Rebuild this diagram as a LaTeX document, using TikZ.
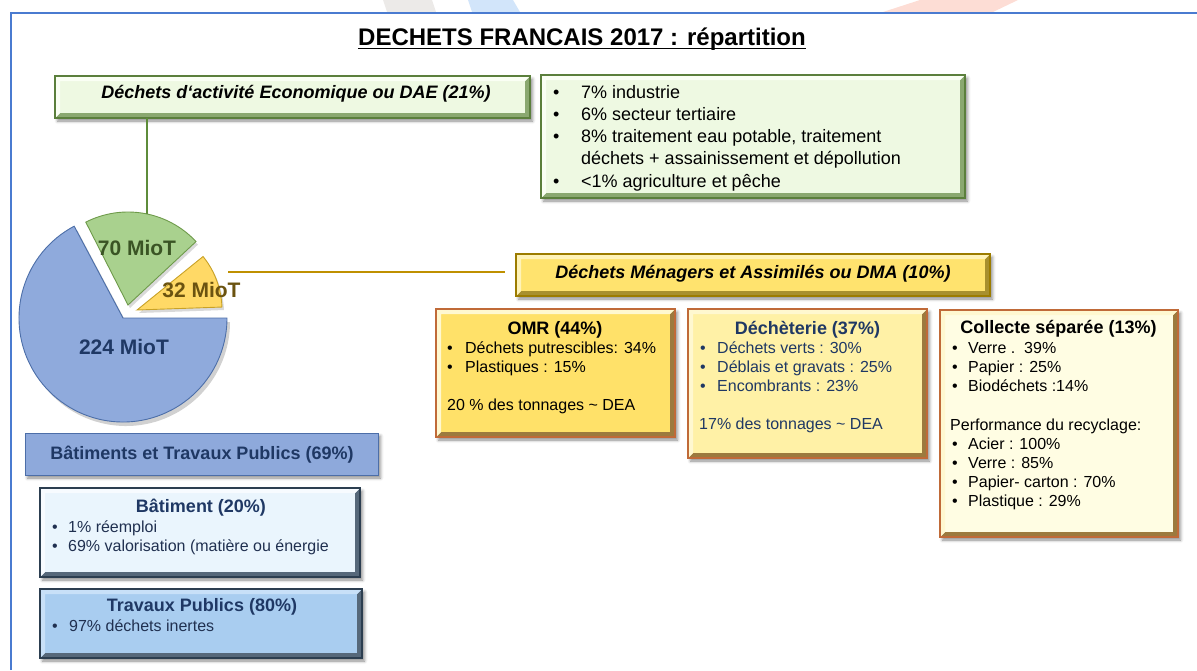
\documentclass[tikz,border=0pt]{standalone}
\usepackage{fontspec}
\setmainfont{Liberation Sans}
\usetikzlibrary{shadows.blur,calc}
\definecolor{framec}{HTML}{4A7BD0}
\definecolor{navy}{HTML}{1F3864}
\definecolor{gfill}{HTML}{EEF9E2}
\definecolor{glight}{HTML}{FAFFF4}
\definecolor{gdark}{HTML}{8AA870}
\definecolor{gborder}{HTML}{5B7F3C}
\definecolor{gline}{HTML}{5E8C3A}
\definecolor{piegreen}{HTML}{A9D18E}
\definecolor{piegreenb}{HTML}{6E9A4A}
\definecolor{pieblue}{HTML}{8FAADC}
\definecolor{pieblueb}{HTML}{4C6EA8}
\definecolor{pieyel}{HTML}{FFD966}
\definecolor{pieyelb}{HTML}{C9A227}
\definecolor{goldline}{HTML}{BF9000}
\definecolor{dmafill}{HTML}{FFE36E}
\definecolor{dmalight}{HTML}{FFF3B8}
\definecolor{dmadark}{HTML}{A8902E}
\definecolor{dmaborder}{HTML}{9C7C00}
\definecolor{omrfill}{HTML}{FFE169}
\definecolor{dechfill}{HTML}{FFF1A6}
\definecolor{collfill}{HTML}{FFFDE3}
\definecolor{ylight}{HTML}{FFF8D0}
\definecolor{ydark}{HTML}{9C7A3E}
\definecolor{yborder}{HTML}{C06A38}
\definecolor{btpfill}{HTML}{8EA9DB}
\definecolor{btpborder}{HTML}{4C6EA8}
\definecolor{batfill}{HTML}{EAF5FD}
\definecolor{tpfill}{HTML}{A9CDF0}
\definecolor{slateb}{HTML}{2C3E50}
\definecolor{slated}{HTML}{56687A}
\definecolor{slatel}{HTML}{F7FBFF}
\definecolor{tplight}{HTML}{C8E0F8}
\definecolor{txtslate}{HTML}{203050}
\definecolor{t70}{HTML}{3A5424}
\definecolor{t32}{HTML}{6B5310}
\definecolor{stripeg}{HTML}{ECEAE8}
\definecolor{stripeb}{HTML}{D2E5FA}
\definecolor{striper}{HTML}{FDDDD5}
\newcommand\bevel[4]{%
  \fill[#3] (#1.south west) -- (#1.south east) -- (#1.north east)
    -- ([shift={(-5pt,-5pt)}]#1.north east) -- ([shift={(-5pt,5pt)}]#1.south east)
    -- ([shift={(5pt,5pt)}]#1.south west) -- cycle;
  \fill[#2] (#1.south west) -- (#1.north west) -- (#1.north east)
    -- ([shift={(-5pt,-5pt)}]#1.north east) -- ([shift={(5pt,-5pt)}]#1.north west)
    -- ([shift={(5pt,5pt)}]#1.south west) -- cycle;
  \draw[#4, line width=1.1pt] (#1.south west) rectangle (#1.north east);}
\newcommand\bl[6]{\node[#1, anchor=base west] (#2) at (#3,#4) {\makebox[#5pt][l]{•}#6};}
\begin{document}
\begin{tikzpicture}[x=1pt,y=-1pt,
  boxnode/.style={inner sep=0, outer sep=0, blur shadow={shadow xshift=2.5pt, shadow yshift=-3pt, shadow blur radius=3pt, shadow opacity=45}},
  t18/.style={inner sep=0, font=\fontsize{18}{22}\selectfont},
  t16/.style={inner sep=0, font=\fontsize{16}{19}\selectfont},
  b18/.style={inner sep=0, font=\fontsize{18}{22}\selectfont\bfseries},
  bi18/.style={inner sep=0, font=\fontsize{18}{22}\selectfont\bfseries\itshape},
  pielab/.style={inner sep=0, font=\fontsize{21}{25}\selectfont\bfseries, anchor=base}]
\useasboundingbox (0,0) rectangle (1197,670);
% decorative stripes and frame
\fill[stripeg] (387,12) -- (436,12) -- (432,0) -- (383,0) -- cycle;
\fill[stripeb] (472,12) -- (520,12) -- (513,0) -- (468,0) -- cycle;
\fill[striper] (883,12) -- (993,12) -- (1018,0) -- (920,0) -- cycle;
\draw[framec, line width=2pt] (11,670) -- (11,13) -- (1197,13);
% title
\node[inner sep=0, font=\fontsize{24}{28}\selectfont\bfseries, anchor=base] (title) at (582,45.5) {DECHETS FRANCAIS 2017 : répartition};
\draw[line width=1.8pt] ([yshift=-3pt]title.base west) -- ([yshift=-3pt]title.base east);
% pie chart
\fill[black, opacity=0.18] (126,322) -- ++(-118:104) arc[start angle=-118, end angle=-360, radius=104] -- cycle;
\filldraw[fill=pieblue, draw=pieblueb, line width=0.9pt] (123,318) -- ++(-118:104) arc[start angle=-118, end angle=-360, radius=104] -- cycle;
\fill[black, opacity=0.15] (130,308) -- ++(-43:93) arc[start angle=-43, end angle=-117, radius=93] -- cycle;
\filldraw[fill=piegreen, draw=piegreenb, line width=0.9pt] (128,305) -- ++(-43:93) arc[start angle=-43, end angle=-117, radius=93] -- cycle;
\fill[black, opacity=0.15] (139,313) -- ++(-2:85) arc[start angle=-2, end angle=-39, radius=85] -- cycle;
\filldraw[fill=pieyel, draw=pieyelb, line width=0.9pt] (137,310) -- ++(-2:85) arc[start angle=-2, end angle=-39, radius=85] -- cycle;
\coordinate (gtop) at ($(128,305)+(-78:93)$);
\node[pielab, text=t70] (l70) at (137,255.5) {70 MioT};
\node[pielab, text=t32] (l32) at (201.5,297.5) {32 MioT};
\node[pielab, text=navy] (l224) at (124,354.5) {224 MioT};
% DAE
\node[boxnode, fill=gfill, minimum width=475, minimum height=42] (dae) at (292.5,97) {};
\bevel{dae}{glight}{gdark}{gborder}
\node[bi18, anchor=base] (daet) at (296,98.5) {Déchets d‘activité Economique ou DAE (21\%)};
\node[boxnode, fill=gfill, minimum width=424, minimum height=123] (daelist) at (753,136.5) {};
\bevel{daelist}{glight}{gdark}{gborder}
\bl{t18}{d1}{553}{98.5}{28}{7\% industrie}
\bl{t18}{d2}{553}{120.5}{28}{6\% secteur tertiaire}
\bl{t18}{d3}{553}{142.5}{28}{8\% traitement eau potable, traitement}
\node[t18, anchor=base west] (d3b) at (581,164.5) {déchets + assainissement et dépollution};
\bl{t18}{d4}{553}{187}{28}{<1\% agriculture et pêche}
\draw[gline, line width=2pt] (dae.south -| gtop) -- (gtop);
% DMA
\node[boxnode, fill=dmafill, minimum width=474, minimum height=42] (dma) at (753,275) {};
\bevel{dma}{dmalight}{dmadark}{dmaborder}
\node[bi18, anchor=base] (dmat) at (753,278.5) {Déchets Ménagers et Assimilés ou DMA (10\%)};
\coordinate (gl1) at (228,272);
\coordinate (gl2) at (505,272);
\draw[goldline, line width=2.6pt] (gl1) -- (gl2);
% OMR
\node[boxnode, fill=omrfill, minimum width=239, minimum height=128] (omr) at (555.5,373) {};
\bevel{omr}{ylight}{ydark}{yborder}
\node[b18, anchor=base] (omrt) at (555,334.5) {OMR (44\%)};
\bl{t16}{o1}{447}{353.5}{18}{Déchets putrescibles: 34\%}
\bl{t16}{o2}{447}{372.5}{18}{Plastiques : 15\%}
\node[t16, anchor=base west] (o3) at (447,410.5) {20 \% des tonnages \textasciitilde{} DEA};
% Decheterie
\node[boxnode, fill=dechfill, minimum width=239, minimum height=149] (dech) at (807.5,383.5) {};
\bevel{dech}{ylight}{ydark}{yborder}
\node[b18, anchor=base, text=navy] (decht) at (807.5,334.5) {Déchèterie (37\%)};
\bl{t16, text=navy}{e1}{700}{353.5}{17}{Déchets verts : 30\%}
\bl{t16, text=navy}{e2}{700}{372.5}{17}{Déblais et gravats : 25\%}
\bl{t16, text=navy}{e3}{700}{391.5}{17}{Encombrants : 23\%}
\node[t16, anchor=base west, text=navy] (e4) at (699,429.5) {17\% des tonnages \textasciitilde{} DEA};
% Collecte
\node[boxnode, fill=collfill, minimum width=238, minimum height=227] (coll) at (1059,423.5) {};
\bevel{coll}{ylight}{ydark}{yborder}
\node[b18, anchor=base] (collt) at (1058.5,333.5) {Collecte séparée (13\%)};
\bl{t16}{c1}{952}{353.5}{16}{Verre .\ \ 39\%}
\bl{t16}{c2}{952}{372.5}{16}{Papier : 25\%}
\bl{t16}{c3}{952}{391.5}{16}{Biodéchets :14\%}
\node[t16, anchor=base west] (c4) at (950,430.5) {Performance du recyclage:};
\bl{t16}{c5}{952}{449.5}{16}{Acier : 100\%}
\bl{t16}{c6}{952}{468.5}{16}{Verre : 85\%}
\bl{t16}{c7}{952}{487.5}{16}{Papier- carton : 70\%}
\bl{t16}{c8}{952}{506.5}{16}{Plastique : 29\%}
% BTP
\node[boxnode, fill=btpfill, draw=btpborder, line width=1pt, minimum width=353, minimum height=42] (btp) at (201.5,454) {};
\node[b18, anchor=base, text=navy] (btpt) at (202,459.5) {Bâtiments et Travaux Publics (69\%)};
\node[boxnode, fill=batfill, minimum width=320, minimum height=89] (bat) at (200,532.5) {};
\bevel{bat}{slatel}{slated}{slateb}
\node[b18, anchor=base, text=navy] (batt) at (201,512.5) {Bâtiment (20\%)};
\bl{t16, text=txtslate}{a1}{52}{532.5}{16}{1\% réemploi}
\bl{t16, text=txtslate}{a2}{52}{551.5}{16}{69\% valorisation (matière ou énergie}
\node[boxnode, fill=tpfill, minimum width=322, minimum height=69] (tp) at (201,623.5) {};
\bevel{tp}{tplight}{slated}{slateb}
\node[b18, anchor=base, text=navy] (tpt) at (202,611.5) {Travaux Publics (80\%)};
\bl{t16, text=txtslate}{p1}{52}{631.5}{17}{97\% déchets inertes}
\end{tikzpicture}
\end{document}
